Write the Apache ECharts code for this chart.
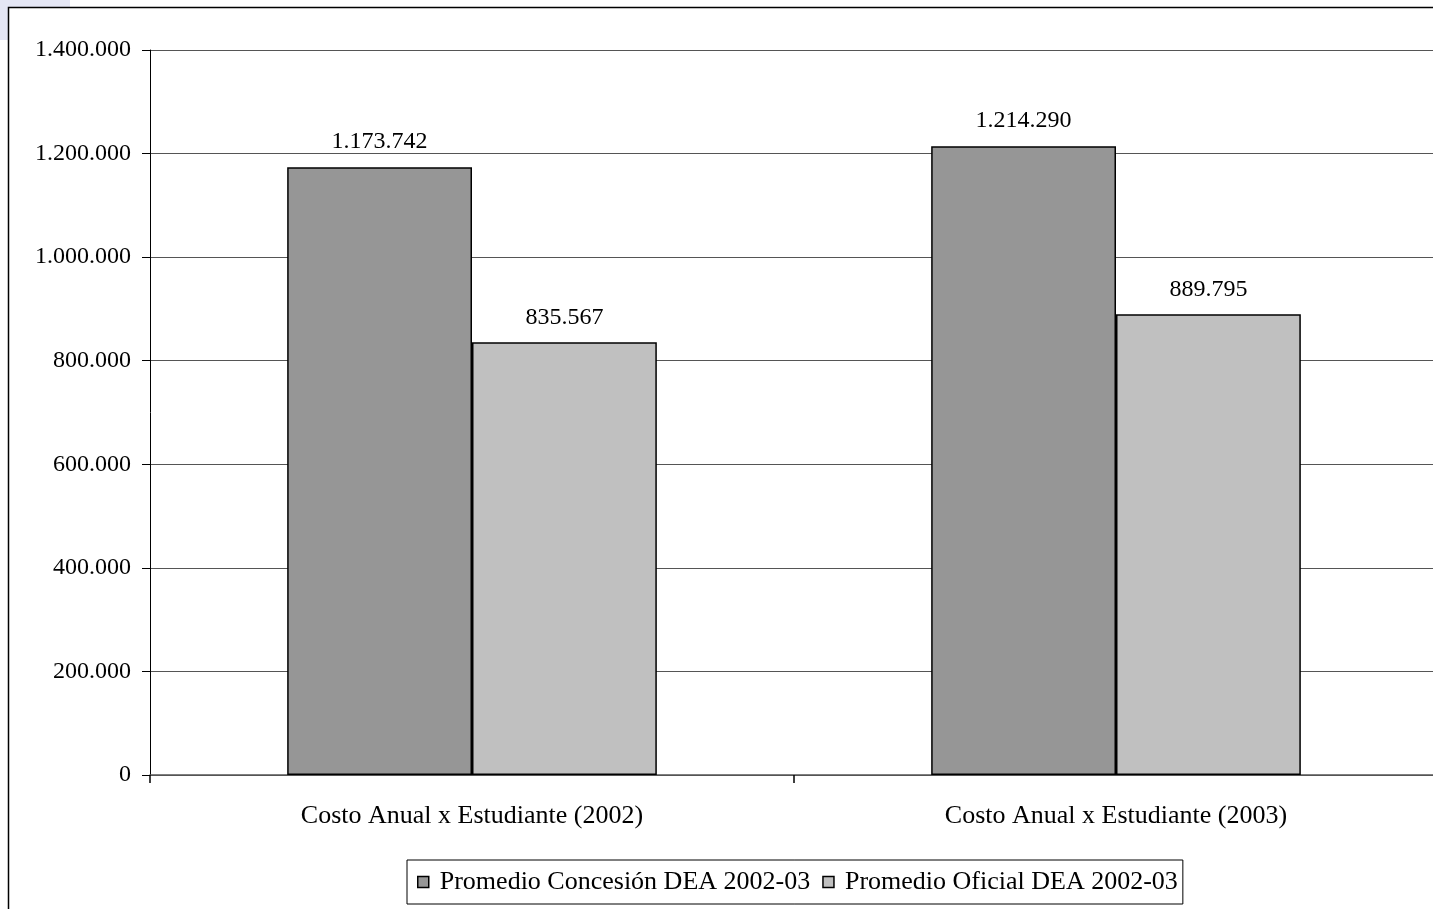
<!DOCTYPE html>
<html>
<head>
<meta charset="utf-8">
<script src="https://cdn.jsdelivr.net/npm/echarts@6/dist/echarts.min.js"></script>
<style>
html,body{margin:0;padding:0;background:#fff;overflow:hidden;width:1433px;height:909px;}
#main{width:1440px;height:909px;}
</style>
</head>
<body>
<div id="main"></div>
<script>
const categories = ['Costo Anual x Estudiante (2002)', 'Costo Anual x Estudiante (2003)'];
const seriesNames = ['Promedio Concesión DEA 2002-03', 'Promedio Oficial DEA 2002-03'];
const concesion = [1173742, 1214290];
const oficial = [835567, 889795];
const yTicks = [0, 200000, 400000, 600000, 800000, 1000000, 1200000, 1400000];

function fmt(v){ return String(Math.round(v)).replace(/\B(?=(\d{3})+(?!\d))/g, '.'); }

const FONT = 'Liberation Serif';
const chart = echarts.init(document.getElementById('main'), null, {renderer:'canvas'});
chart.setOption({
  animation:false,
  backgroundColor:'#ffffff',
  textStyle:{fontFamily:FONT, color:'#000'},
  graphic:[
    {type:'rect', shape:{x:0,y:0,width:24,height:40}, style:{fill:'#e4e6f4'}, z:-10},
    {type:'rect', shape:{x:0,y:0,width:70,height:7}, style:{fill:'#e4e6f4'}, z:-10},
    {type:'rect', shape:{x:8.5,y:7.5,width:1440,height:920}, style:{fill:'#fff', stroke:'#000', lineWidth:1.5}, z:-5}
  ],
  grid:{left:150, top:50, right:2, bottom:134, containLabel:false},
  legend:{
    left:407, top:860,
    data:seriesNames,
    icon:'rect', itemWidth:11, itemHeight:11, itemGap:12,
    padding:[9,5,9,10],
    borderColor:'#000', borderWidth:1,
    textStyle:{fontFamily:FONT, fontSize:26, color:'#000', padding:[0,0,0,6]},
    itemStyle:{borderColor:'#000', borderWidth:1.5}
  },
  xAxis:{
    type:'category', data:categories,
    axisLine:{lineStyle:{color:'#555', width:1.5}},
    axisTick:{show:true, length:8, lineStyle:{color:'#000', width:1.5}},
    axisLabel:{fontFamily:FONT, fontSize:26, color:'#000', margin:28}
  },
  yAxis:{
    type:'value', min:0, max:1400000, interval:200000,
    axisLine:{show:true, lineStyle:{color:'#000', width:1}},
    axisTick:{show:true, length:8, lineStyle:{color:'#000'}},
    axisLabel:{fontFamily:FONT, fontSize:24, color:'#000', margin:19,
      formatter:function(v){ return yTicks.indexOf(v) >= 0 ? fmt(v) : ''; }},
    splitLine:{show:true, lineStyle:{color:'#555', width:1}}
  },
  series:[
    {name:seriesNames[0], type:'bar', data:concesion, barGap:'0%', barCategoryGap:'42.6%',
     itemStyle:{color:'#969696', borderColor:'#000', borderWidth:1.5},
     label:{show:true, position:'top', distance:13, fontFamily:FONT, fontSize:24, color:'#000', formatter:function(p){return fmt(p.value);}}},
    {name:seriesNames[1], type:'bar', data:oficial, barGap:'0%', barCategoryGap:'42.6%',
     itemStyle:{color:'#c0c0c0', borderColor:'#000', borderWidth:1.5},
     label:{show:true, position:'top', distance:13, fontFamily:FONT, fontSize:24, color:'#000', formatter:function(p){return fmt(p.value);}}}
  ]
});
</script>
</body>
</html>
